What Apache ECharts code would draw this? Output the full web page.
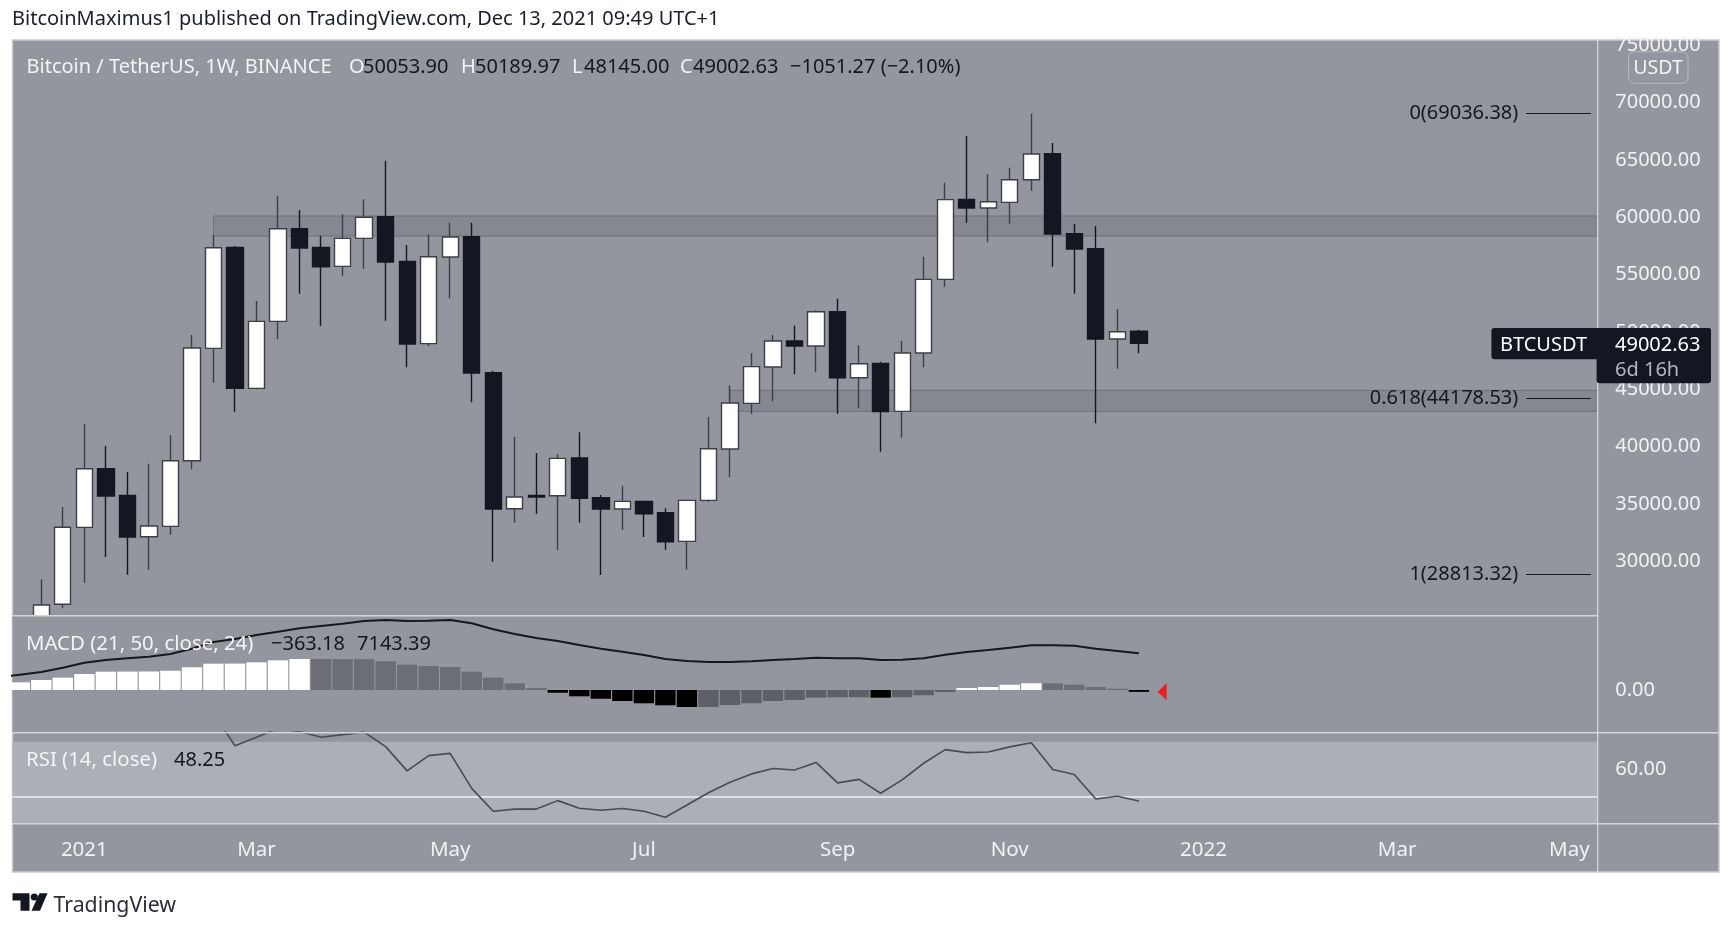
<!DOCTYPE html>
<html><head><meta charset="utf-8">
<style>html,body{margin:0;padding:0;background:#fff}#c{width:1727px;height:925px}</style>
<script src="https://cdn.jsdelivr.net/npm/echarts@6/dist/echarts.min.js"></script>
</head><body><div id="c"></div>
<script>
const opens  = [24000,26230,32944,38064,35737,32129,33031,38762,48565,57377,45075,50922,59006,57377,55719,58163,60053,56155,48973,56534,58308,46442,34573,35737,35707,38995,35533,34544,35213,34224,31723,35301,39781,43766,46934,49204,48767,51763,46003,47255,43068,48156,54585,61567,60810,61305,63283,65552,58571,57261,49378,50053.90];
const closes = [26170,32950,38064,35678,32100,33060,38762,48594,57348,45075,50922,59006,57319,55690,58163,60000,56097,48944,56563,58279,46413,34544,35591,35591,38966,35475,34544,35213,34137,31694,35301,39810,43795,46966,49204,48767,51763,46003,47225,43039,48156,54585,61538,60810,61363,63283,65523,58542,57232,49378,50018,49002.63];
const lows   = [23500,25880,28115,30355,28813,29249,32304,38006,45569,43038,44987,49351,53333,50514,54875,55515,50980,46907,48769,52926,43853,29948,33351,34137,30966,33351,28785,32711,32101,30966,29250,35155,37308,42835,43940,46294,46469,42835,43330,39548,40770,46905,53945,59530,57814,59443,62323,55691,53334,42020,46789,48145.00];
const highs  = [28410,34720,41962,40042,37773,38500,40973,49729,58453,57494,52693,61886,60635,58395,60257,61566,64940,57580,58512,59530,59530,46616,40857,39431,39315,41235,35766,36581,35213,34602,35301,42573,45337,48129,49727,50541,51880,52898,48825,47400,49232,56563,63021,67094,63749,64330,69036.38,66483,59414,59240,52001,50189.97];

const histValues = [1500,1950,2400,3120,3570,3590,3610,3760,4430,5130,5150,5400,5790,6050,6040,6030,6020,5600,4930,4680,4490,3570,2400,1310,390,-530,-1230,-1700,-2150,-2590,-2980,-3320,-3310,-2930,-2590,-2150,-1950,-1500,-1430,-1420,-1500,-1420,-1030,-390,390,590,1030,1310,1300,1030,590,250,-363.18];
const macdValues = [2470,2990,3510,4355,5330,5850,6175,6500,7020,8060,9360,9945,10725,11375,12025,12480,12935,13455,13650,13455,13520,13650,13000,11830,10920,10140,9555,8775,8060,7475,6825,6045,5655,5460,5460,5590,5850,6045,6305,6175,6175,5850,5915,6175,6890,7410,7800,8255,8710,8710,8645,8060,7605,7143.39];
const rsiValues  = [76,80,83,80,76,75,79,86,80.4,68.5,71.6,74.9,73.7,71.6,72.6,73.5,68.2,59.3,64.9,65.7,52.9,44.5,45.3,45.3,48.4,45.6,44.9,45.5,44.5,42.3,46.8,51.3,55.1,58.2,60.2,59.6,62.4,54.9,56.2,51.1,56.0,62.1,67.1,66,66.2,68.1,69.6,59.8,58,49,50,48.25];

const xTickIndex  = [2,10,19,28,37,45,54,63,71];
const xTickLabels = ['2021','Mar','May','Jul','Sep','Nov','2022','Mar','May'];
const priceTicks  = [30000,35000,40000,45000,50000,55000,60000,65000,70000,75000];
const fibRatios   = ['0','0.618','1'];
const fibPrices   = [69036.38,44178.53,28813.32];
const zoneStart   = [8,32];
const zoneHigh    = [60113,44900];
const zoneLow     = [58368,43070];

const FONT = 'Noto Sans';
const X_MIN = -1.338, X_MAX = 72.30;
const L = 12.5, W = 1584.8;
const grids = [
  {left:L,width:W,top:40,height:575},
  {left:L,width:W,top:615,height:117},
  {left:L,width:W,top:732,height:91}
];
function xAxis(i,show){
  return {type:'value',gridIndex:i,min:X_MIN,max:X_MAX,splitLine:{show:false},axisLine:{show:false},axisTick:{show:false},
    axisLabel:{show:show,customValues:xTickIndex,margin:17,color:'#f2f2f4',fontFamily:FONT,fontSize:20.5,hideOverlap:false,showMinLabel:true,showMaxLabel:true,
      formatter:v=>xTickLabels[xTickIndex.indexOf(v)]}};
}
function yAxis(i,min,max,ticks){
  return {type:'value',gridIndex:i,position:'right',min,max,splitLine:{show:false},axisLine:{show:false},axisTick:{show:false},
    axisLabel:{customValues:ticks,margin:18,color:'#f2f2f4',fontFamily:FONT,fontSize:20,padding:[3,0,0,0],hideOverlap:false,showMinLabel:true,showMaxLabel:true,formatter:v=>v.toFixed(2)}};
}
const candleData = opens.map((o,i)=>[i,o,closes[i],lows[i],highs[i]]);
const histData = histValues.map((v,k)=>{
  const prev = k?histValues[k-1]:v-1;
  const color = v>=0 ? (v>prev?'#ffffff':'#6c6e77') : (v<prev?'#000000':'#5e6069');
  return {value:[k-1,v],itemStyle:{color}};
});
const txt=(x,y,text,fill,size,extra)=>Object.assign({type:'text',x,y:y+1.2,z:100,silent:true,style:{text,fill,fontFamily:FONT,fontSize:size||20,textVerticalAlign:'middle',textAlign:'left'}},extra||{});
const rect=(x,y,w,h,fill,z,extra)=>({type:'rect',z,silent:true,shape:Object.assign({x,y,width:w,height:h},(extra||{}).shape||{}),style:Object.assign({fill},(extra||{}).style||{})});
const SEP='#d4d5d9', LW='#f4f4f6', DK='#131722';
const graphic=[
  rect(12.5,40,1706.5,832,'#94969f',-10,{style:{stroke:'#c9cacf',lineWidth:1.5}}),
  rect(12.5,616,1584.5,116,'#94969f',8),
  rect(12.5,615,1584.8,1.5,SEP,50), rect(12.5,732,1706.5,1.5,SEP,50), rect(12.5,823,1706.5,1.5,SEP,50),
  rect(1597,40,1.3,832,SEP,50),
  txt(12,18,'BitcoinMaximus1 published on TradingView.com, Dec 13, 2021 09:49 UTC+1','#1b1f2a',20),
  txt(26.5,66.5,'Bitcoin / TetherUS, 1W, BINANCE',LW),
  txt(349,66.5,'O',LW),txt(363,66.5,'50053.90',DK),
  txt(461,66.5,'H',LW),txt(475,66.5,'50189.97',DK),
  txt(572,66.5,'L',LW),txt(584,66.5,'48145.00',DK),
  txt(680,66.5,'C',LW),txt(693,66.5,'49002.63',DK),
  txt(790,66.5,'−1051.27 (−2.10%)',DK),
  txt(26,642.7,'MACD (21, 50, close, 24)',LW,20.4),
  txt(271,642.7,'−363.18',DK),txt(357,642.7,'7143.39',DK),
  txt(26,759.3,'RSI (14, close)',LW,20.4),txt(174,759.3,'48.25',DK),
  // unit box
  rect(1628.6,51.7,59.4,31.6,'#94969f',60,{shape:{r:6},style:{stroke:'#b9bbc1',lineWidth:1}}),
  txt(1658,67,'USDT',LW,19.5,{z:61,style:{text:'USDT',fill:LW,fontFamily:FONT,fontSize:19.5,textVerticalAlign:'middle',textAlign:'center'}}),
  // last price tag
  rect(1491.4,328,219.6,31.3,DK,70,{shape:{r:3}}),
  rect(1596.6,328,114.4,55.3,DK,70,{shape:{r:3}}),
  txt(1500,344,'BTCUSDT','#ffffff',20,{z:71}),
  txt(1615,344,'49002.63','#ffffff',20,{z:71}),
  txt(1615,369,'6d 16h','#b4b6bc',20,{z:71}),
  // logo
  {type:'group',z:100,silent:true,children:[
    {type:'polygon',z:100,shape:{points:[[12.5,893.3],[29.5,893.3],[29.5,910.7],[20.5,910.7],[20.5,900.5],[12.5,900.5]]},style:{fill:DK}},
    {type:'circle',z:100,shape:{cx:34.3,cy:897,r:3.6},style:{fill:DK}},
    {type:'polygon',z:100,shape:{points:[[39.5,893.3],[47.5,893.3],[40,910.7],[31.5,910.7]]},style:{fill:DK}}
  ]},
  txt(53.5,905,'TradingView','#2a2e39',21.3)
];
const chart=echarts.init(document.getElementById('c'),null,{renderer:'canvas'});
chart.setOption({
  animation:false,backgroundColor:'#ffffff',
  grid:grids,
  xAxis:[xAxis(0,false),xAxis(1,false),xAxis(2,true)],
  yAxis:[yAxis(0,25297,75471,priceTicks),yAxis(1,-8190,14625,[0]),yAxis(2,40.2,73.55,[60])],
  graphic:{elements:graphic},
  series:[
    {type:'line',xAxisIndex:0,yAxisIndex:0,data:[],z:1,silent:true,
      markArea:{silent:true,z:1,itemStyle:{color:'#868891',borderColor:'#6f7178',borderWidth:1},
        data:zoneStart.map((s,i)=>[{coord:[s,zoneHigh[i]]},{coord:[X_MAX,zoneLow[i]]}])},
      markLine:{silent:true,symbol:'none',z:6,lineStyle:{color:DK,width:1,type:'solid'},
        label:{position:'start',distance:8,color:DK,fontFamily:FONT,fontSize:20,formatter:p=>p.name},
        data:fibPrices.map((p,i)=>[{name:fibRatios[i]+'('+p.toFixed(2)+')',coord:[69,p]},{coord:[72,p]}])}},
    {type:'candlestick',xAxisIndex:0,yAxisIndex:0,z:5,silent:true,barWidth:16.8,data:candleData,
      itemStyle:{color:'#ffffff',color0:DK,borderColor:'#3d3f47',borderColor0:DK,borderWidth:1.4}},
    {type:'bar',xAxisIndex:1,yAxisIndex:1,silent:true,barWidth:20.4,data:histData,z:12},
    {type:'line',xAxisIndex:1,yAxisIndex:1,silent:true,showSymbol:false,symbol:'none',lineStyle:{color:'#17181d',width:2},data:macdValues.map((v,k)=>[k-2,v]),z:13},
    {type:'scatter',xAxisIndex:1,yAxisIndex:1,silent:true,data:[[52.08,histValues[histValues.length-1]]],symbol:'triangle',symbolSize:[17,9],symbolRotate:90,itemStyle:{color:'#ff0000'},z:14},
    {type:'line',xAxisIndex:2,yAxisIndex:2,silent:true,showSymbol:false,symbol:'none',lineStyle:{color:'#4a4b52',width:1.6},data:rsiValues.map((v,k)=>[k,v]),z:14,
      markArea:{silent:true,z:1,itemStyle:{color:'#adafb6'},data:[[{yAxis:70},{yAxis:40.2}]]},
      markLine:{silent:true,symbol:'none',z:3,label:{show:false},lineStyle:{color:'#eeeff1',width:1.5,type:'solid'},data:[{yAxis:50}]}}
  ]
});
</script></body></html>
